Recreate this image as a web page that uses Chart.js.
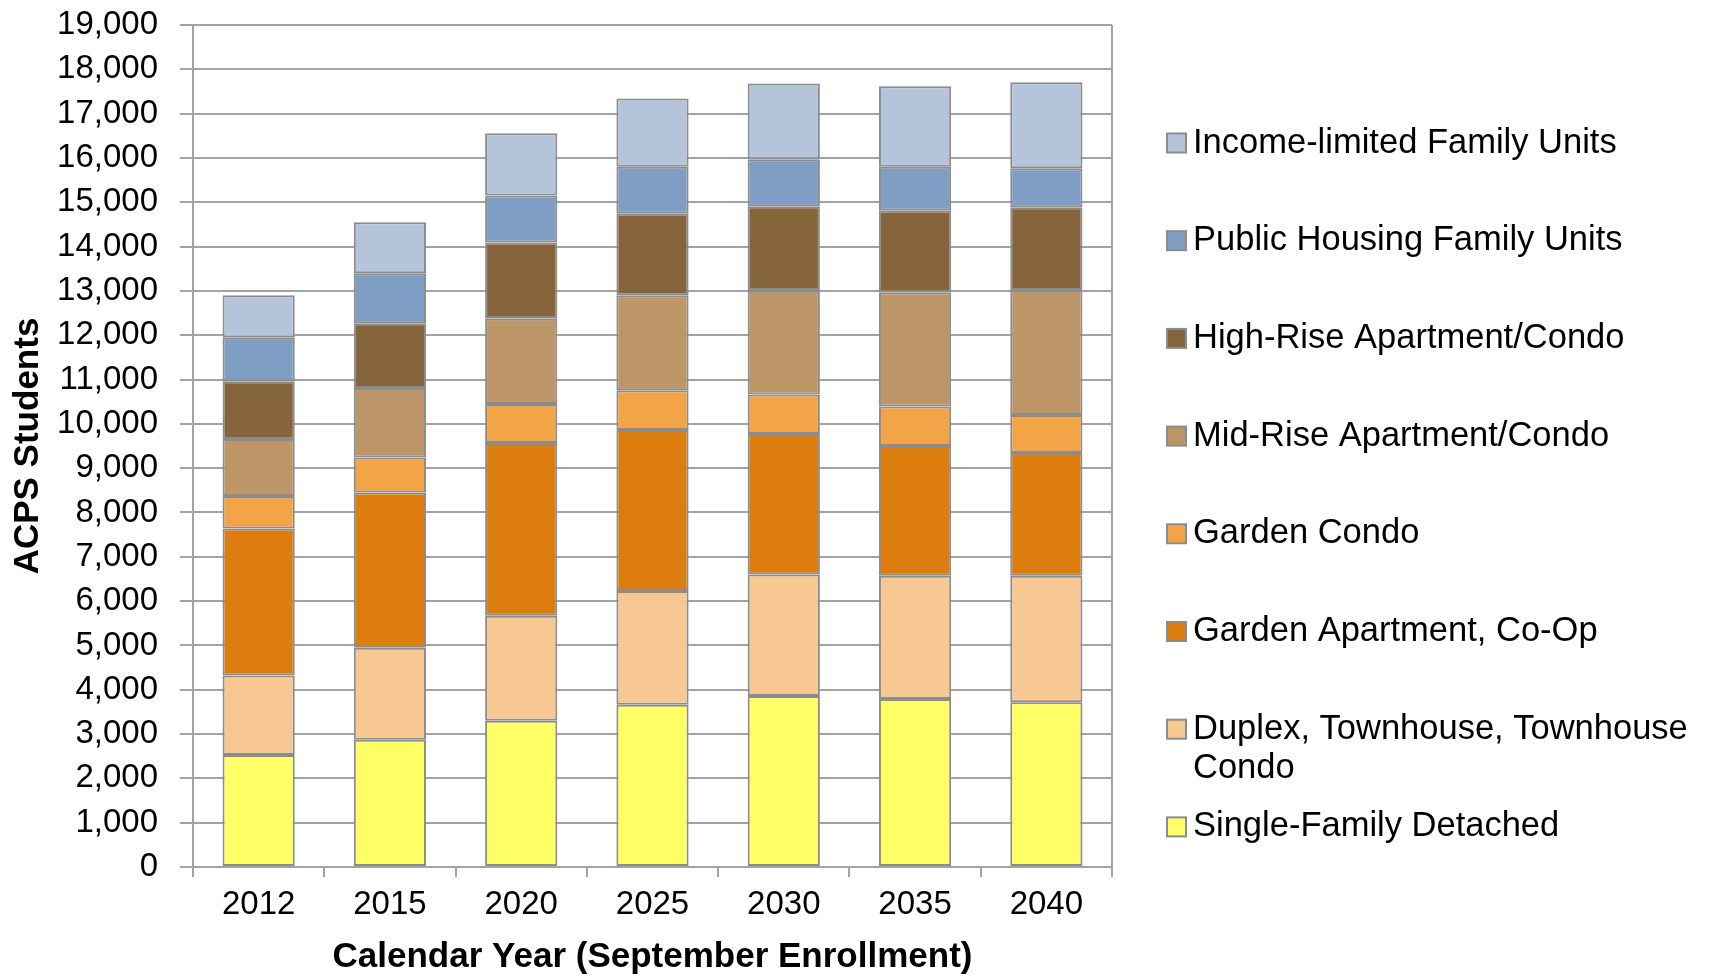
<!DOCTYPE html>
<html>
<head>
<meta charset="utf-8">
<title>ACPS Students by Housing Type</title>
<script src="https://cdn.jsdelivr.net/npm/chart.js@4.4.1/dist/chart.umd.min.js"></script>
<style>
  html, body { margin: 0; padding: 0; background: #fff; }
  canvas { display: block; }
</style>
</head>
<body>
<canvas id="enrollment" width="1713" height="976"></canvas>
<script>
// Projected students by housing type, stacked bottom to top
const years = ['2012', '2015', '2020', '2025', '2030', '2035', '2040'];
const singleFamily    = [2530, 2870, 3300, 3660, 3860, 3790, 3720];
const duplexTownhouse = [1790, 2080, 2370, 2570, 2740, 2780, 2850];
const gardenApartment = [3320, 3500, 3900, 3630, 3170, 2930, 2770];
const gardenCondo     = [730, 790, 880, 900, 890, 890, 860];
const midRise         = [1290, 1570, 1920, 2140, 2360, 2580, 2820];
const highRise        = [1300, 1460, 1720, 1840, 1890, 1840, 1870];
const publicHousing   = [980, 1130, 1060, 1060, 1060, 990, 880];
const incomeLimited   = [960, 1150, 1410, 1540, 1710, 1820, 1940];

const yMax = 19000;
const yStep = 1000;

const FONT = "'Liberation Sans', Arial, sans-serif";
const GRID = '#a3a3a3';
const EDGE = '#8c8c8c';

function series(label, data, color) {
  return {
    label: label,
    data: data,
    backgroundColor: color,
    borderColor: EDGE,
    borderWidth: 2,
    borderSkipped: false,
    barPercentage: 0.55,
    categoryPercentage: 1
  };
}

// legend on the right, top entry = top of stack, long labels wrap
const sideLegend = {
  id: 'sideLegend',
  afterDraw(chart) {
    const ctx = chart.ctx;
    const area = chart.chartArea;

    // right edge of the plot frame
    ctx.save();
    ctx.strokeStyle = GRID;
    ctx.lineWidth = 2;
    ctx.beginPath();
    ctx.moveTo(area.right, area.top);
    ctx.lineTo(area.right, area.bottom);
    ctx.stroke();

    ctx.font = '34.5px ' + FONT;
    ctx.textBaseline = 'middle';
    ctx.textAlign = 'left';
    const boxX = 1167, box = 19, textX = 1193, maxW = 518;
    const firstY = 143, rowGap = 97.7, lineGap = 39;
    const sets = chart.data.datasets.slice().reverse();
    sets.forEach((ds, i) => {
      const cy = firstY + i * rowGap;
      ctx.fillStyle = ds.backgroundColor;
      ctx.fillRect(boxX, cy - box / 2, box, box);
      ctx.strokeStyle = EDGE;
      ctx.lineWidth = 2;
      ctx.strokeRect(boxX, cy - box / 2, box, box);

      // simple word wrap
      const words = ds.label.split(' ');
      const lines = [];
      let line = '';
      words.forEach(w => {
        const test = line ? line + ' ' + w : w;
        if (line && ctx.measureText(test).width > maxW) {
          lines.push(line);
          line = w;
        } else {
          line = test;
        }
      });
      lines.push(line);
      ctx.fillStyle = '#000';
      lines.forEach((t, j) => ctx.fillText(t, textX, cy + j * lineGap));
    });
    ctx.restore();
  }
};

new Chart(document.getElementById('enrollment'), {
  type: 'bar',
  data: {
    labels: years,
    datasets: [
      series('Single-Family Detached', singleFamily, '#ffff66'),
      series('Duplex, Townhouse, Townhouse Condo', duplexTownhouse, '#f7c891'),
      series('Garden Apartment, Co-Op', gardenApartment, '#dd7d0e'),
      series('Garden Condo', gardenCondo, '#f2a447'),
      series('Mid-Rise Apartment/Condo', midRise, '#bc9666'),
      series('High-Rise Apartment/Condo', highRise, '#86653c'),
      series('Public Housing Family Units', publicHousing, '#7f9ec3'),
      series('Income-limited Family Units', incomeLimited, '#b4c5db')
    ]
  },
  options: {
    responsive: false,
    animation: false,
    layout: { padding: { top: 25, right: 601, bottom: 0, left: 0 } },
    plugins: {
      legend: { display: false },
      tooltip: { enabled: false }
    },
    scales: {
      x: {
        stacked: true,
        grid: {
          offset: true,
          drawOnChartArea: false,
          drawTicks: true,
          tickLength: 10,
          color: GRID,
          lineWidth: 2
        },
        border: { display: true, color: GRID, width: 2 },
        ticks: {
          color: '#000',
          padding: 8,
          font: { family: FONT, size: 33 }
        },
        title: {
          display: true,
          text: 'Calendar Year (September Enrollment)',
          color: '#000',
          padding: { top: 0, bottom: 1 },
          font: { family: FONT, size: 35, weight: 'bold', lineHeight: 1 }
        },
        afterFit(scale) { scale.height = 109; }
      },
      y: {
        stacked: true,
        min: 0,
        max: yMax,
        grid: {
          color: GRID,
          lineWidth: 2,
          tickLength: 13
        },
        border: { display: true, color: GRID, width: 2 },
        ticks: {
          stepSize: yStep,
          color: '#000',
          padding: 22,
          font: { family: FONT, size: 33 },
          callback: v => v.toLocaleString('en-US')
        },
        title: {
          display: true,
          text: 'ACPS Students',
          color: '#000',
          padding: { top: 7, bottom: 0 },
          font: { family: FONT, size: 35, weight: 'bold', lineHeight: 1.2 }
        },
        afterFit(scale) {
          scale.width = 193;
          // let the layout padding alone decide the plot top
          scale.paddingTop = 0;
          scale.paddingBottom = 0;
        }
      }
    }
  },
  plugins: [sideLegend]
});
</script>
</body>
</html>
